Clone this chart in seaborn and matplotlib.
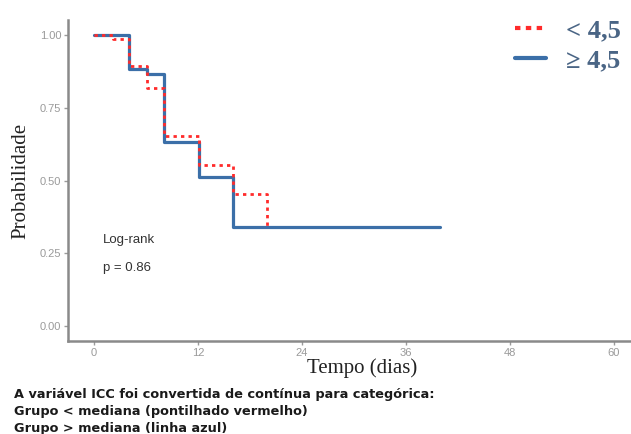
import matplotlib
matplotlib.use("Agg")
import matplotlib.pyplot as plt
import seaborn as sns
import pandas as pd
from matplotlib.lines import Line2D

# ---- data ----
time_high = [0, 4.0, 6.1, 8.1, 12.1, 16.0, 40.0]
surv_high = [1.0, 0.882, 0.866, 0.633, 0.511, 0.341, 0.341]
time_low = [0, 2.2, 4.0, 6.1, 8.1, 12.1, 16.0, 20.0]
surv_low = [1.0, 0.987, 0.892, 0.818, 0.654, 0.553, 0.454, 0.341]
group_labels = ["< 4,5", "\u2265 4,5"]
x_ticks = [0, 12, 24, 36, 48, 60]
y_ticks = [0.0, 0.25, 0.50, 0.75, 1.00]
y_ticklabels = ["0.00", "0.25", "0.50", "0.75", "1.00"]
caption = ["A vari\u00e1vel ICC foi convertida de cont\u00ednua para categ\u00f3rica:",
           "Grupo < mediana (pontilhado vermelho)",
           "Grupo > mediana (linha azul)"]

sns.set_theme(style="white")
plt.rcParams["font.family"] = ["Liberation Sans", "DejaVu Sans"]

blue = "#3b6fa8"
red = "#ff2b2b"

fig = plt.figure(figsize=(6.31, 4.34), dpi=100)
ax = fig.add_axes([0.108, 0.215, 0.892, 0.738])

df_high = pd.DataFrame({"t": time_high, "s": surv_high})
df_low = pd.DataFrame({"t": time_low, "s": surv_low})

sns.lineplot(data=df_high, x="t", y="s", drawstyle="steps-post", color=blue,
             linewidth=2.3, ax=ax, estimator=None, sort=False, zorder=2)
sns.lineplot(data=df_low, x="t", y="s", drawstyle="steps-post", color=red,
             linewidth=2.0, linestyle=(0, (1.2, 1.5)), ax=ax, estimator=None,
             sort=False, zorder=3)

ax.set_xlim(-3, 62)
ax.set_ylim(-0.05, 1.05)
ax.set_xticks(x_ticks)
ax.set_xticklabels([str(v) for v in x_ticks])
ax.set_yticks(y_ticks)
ax.set_yticklabels(y_ticklabels)
ax.tick_params(axis="both", colors="#9a9a9a", labelsize=8, length=3, width=1,
               direction="out", bottom=True, left=True, pad=2)
for side in ["top", "right"]:
    ax.spines[side].set_visible(False)
for side in ["left", "bottom"]:
    ax.spines[side].set_color("#8a8a8a")
    ax.spines[side].set_linewidth(1.8)

ax.set_xlabel("Tempo (dias)", family=["Liberation Serif", "DejaVu Serif"],
              fontsize=15, color="#222222")
ax.xaxis.label.set_va("center")
ax.xaxis.set_label_coords(0.522, -0.085)
ax.set_ylabel("Probabilidade", family=["Liberation Serif", "DejaVu Serif"],
              fontsize=15, color="#222222", labelpad=7)

ax.text(1.0, 0.296, "Log-rank", fontsize=9.5, color="#333333", va="center")
ax.text(1.0, 0.20, "p = 0.86", fontsize=9.5, color="#333333", va="center")

# legend
handles = [Line2D([], [], color=red, linewidth=3, linestyle=(0, (1.3, 1.3))),
           Line2D([], [], color=blue, linewidth=3)]
leg = fig.legend(handles, group_labels, loc="upper right",
                 bbox_to_anchor=(1.021, 1.012), frameon=False,
                 handlelength=1.15, handletextpad=0.75, labelspacing=0.25,
                 prop={"family": ["Liberation Serif", "DejaVu Serif"],
                       "weight": "bold", "size": 19})
for t in leg.get_texts():
    t.set_color("#4a6585")

# caption
ys = [0.090, 0.051, 0.012]
for line, y in zip(caption, ys):
    fig.text(0.022, y, line, fontsize=9.3, weight="bold", color="#1a1a1a",
             va="center", ha="left", family=["DejaVu Sans"])

fig.savefig("out.png", dpi=100)
